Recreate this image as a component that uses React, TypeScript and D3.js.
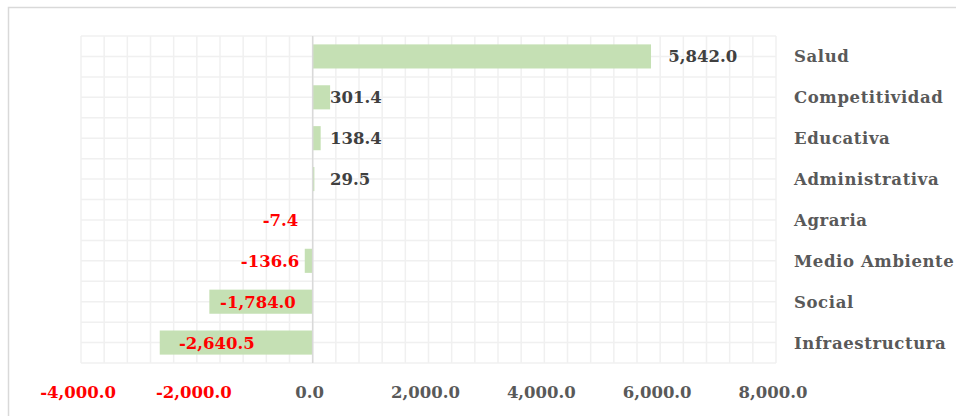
import React, { useRef, useEffect } from "react";
import * as d3 from "d3";

// data
const categories = [
  "Salud",
  "Competitividad",
  "Educativa",
  "Administrativa",
  "Agraria",
  "Medio Ambiente",
  "Social",
  "Infraestructura",
];
const values = [5842.0, 301.4, 138.4, 29.5, -7.4, -136.6, -1784.0, -2640.5];
const xTicks = [-4000, -2000, 0, 2000, 4000, 6000, 8000];

// where each value label sits (in axis units), as placed in the original
const labelAt = [6140, 300, 300, 300, -250, -230, -290, -1000];

const W = 956;
const H = 416;
const FONT = "'DejaVu Serif', serif";

function App() {
  const ref = useRef<SVGSVGElement>(null);

  useEffect(() => {
    const svg = d3.select(ref.current);
    svg.selectAll("*").remove();

    const left = 81;
    const right = 776;
    const top = 36;
    const bottom = 363;

    const x = d3.scaleLinear().domain([-4000, 8000]).range([left, right]);
    const y = d3
      .scaleBand<string>()
      .domain(categories)
      .range([top, bottom])
      .paddingInner(0.41)
      .paddingOuter(0.205);
    const band = d3.scaleBand<string>().domain(categories).range([top, bottom]);

    // outer frame
    svg
      .append("rect")
      .attr("x", 8.5)
      .attr("y", 7.5)
      .attr("width", W)
      .attr("height", H)
      .attr("fill", "#fff")
      .attr("stroke", "#d9d9d9")
      .attr("stroke-width", 1.5);

    // minor grid, every 400
    const grid = svg.append("g");
    const vLines = d3.range(-4000, 8001, 400);
    grid
      .selectAll(".vg")
      .data(vLines)
      .enter()
      .append("line")
      .attr("x1", (d) => x(d))
      .attr("x2", (d) => x(d))
      .attr("y1", top)
      .attr("y2", bottom)
      .style("stroke", "#f0f0f0")
      .style("stroke-width", 1.5);

    const hLines = d3.range(0, categories.length * 2 + 1).map(
      (i) => top + (i * band.bandwidth()) / 2
    );
    grid
      .selectAll(".hg")
      .data(hLines)
      .enter()
      .append("line")
      .attr("x1", left)
      .attr("x2", right)
      .attr("y1", (d) => d)
      .attr("y2", (d) => d)
      .style("stroke", "#f0f0f0")
      .style("stroke-width", 1.5);

    // bars
    svg
      .selectAll(".bar")
      .data(values)
      .enter()
      .append("rect")
      .attr("x", (d) => x(Math.min(0, d)))
      .attr("y", (d, i) => y(categories[i]) as number)
      .attr("width", (d) => Math.abs(x(d) - x(0)))
      .attr("height", y.bandwidth())
      .attr("fill", "#c5e0b4");

    // zero line
    svg
      .append("line")
      .attr("x1", x(0))
      .attr("x2", x(0))
      .attr("y1", top)
      .attr("y2", bottom)
      .style("stroke", "#d9d9d9")
      .style("stroke-width", 1.5);

    // plain hyphen for negatives, like Excel
    const locale = d3.formatLocale({
      decimal: ".",
      thousands: ",",
      grouping: [3],
      currency: ["$", ""],
      minus: "-",
    });
    const fmt = locale.format(",.1f");

    // value labels
    svg
      .selectAll(".val")
      .data(values)
      .enter()
      .append("text")
      .attr("x", (d, i) => x(labelAt[i]))
      .attr("y", (d, i) => (band(categories[i]) as number) + band.bandwidth() / 2)
      .attr("dy", "0.36em")
      .attr("text-anchor", (d) => (d < 0 ? "end" : "start"))
      .style("font-family", FONT)
      .style("font-weight", "bold")
      .style("font-size", "16.5px")
      .style("fill", (d) => (d < 0 ? "#ff0000" : "#404040"))
      .text((d) => fmt(d));

    // category labels on the right
    svg
      .selectAll(".cat")
      .data(categories)
      .enter()
      .append("text")
      .attr("x", 794)
      .attr("y", (d) => (band(d) as number) + band.bandwidth() / 2)
      .attr("dy", "0.36em")
      .style("font-family", FONT)
      .style("font-weight", "bold")
      .style("font-size", "16.5px")
      .style("letter-spacing", "0.6px")
      .style("fill", "#595959")
      .text((d) => d);

    // x tick labels
    svg
      .selectAll(".tick")
      .data(xTicks)
      .enter()
      .append("text")
      .attr("x", (d) => x(d) - 3)
      .attr("y", 398)
      .attr("text-anchor", "middle")
      .style("font-family", FONT)
      .style("font-weight", "bold")
      .style("font-size", "16.5px")
      .style("fill", (d) => (d < 0 ? "#ff0000" : "#595959"))
      .text((d) => fmt(d));
  }, []);

  return (
    <svg
      ref={ref}
      width={W}
      height={H}
      style={{ position: "absolute", left: 0, top: 0, background: "#fff" }}
    ></svg>
  );
}

export default App;
